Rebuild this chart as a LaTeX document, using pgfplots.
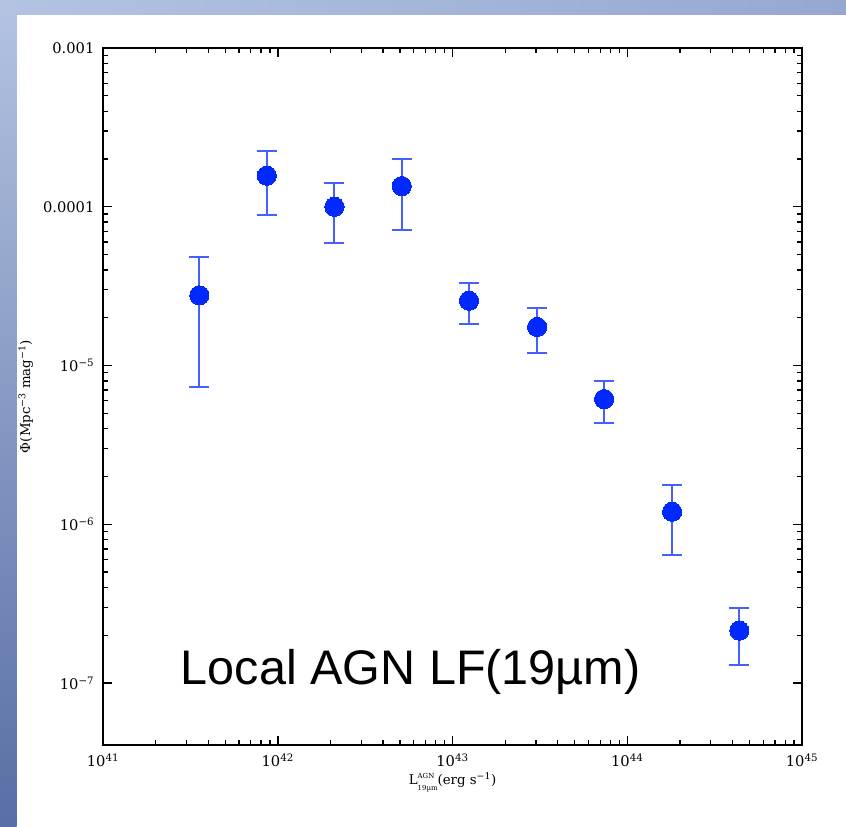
\documentclass[border=0pt]{standalone}
\usepackage{pgfplots}
\pgfplotsset{compat=1.18}
\usepackage{pgfplotstable}
\usepackage{fontspec}
\setmainfont{DejaVu Serif}
\newfontfamily\titlefont{Liberation Sans}

\definecolor{dotblue}{RGB}{0,40,255}
\definecolor{barblue}{RGB}{70,95,255}
\definecolor{frameA}{RGB}{180,195,226}
\definecolor{frameB}{RGB}{150,168,210}
\definecolor{frameC}{RGB}{88,110,165}

% luminosity (erg/s), Phi (Mpc^-3 mag^-1), symmetric 1-sigma error
\pgfplotstableread{
x        y        err
3.556e41 2.77e-5  2.04e-5
8.65e41  1.57e-4  6.85e-5
2.109e42 1.00e-4  4.10e-5
5.117e42 1.35e-4  6.40e-5
1.242e43 2.56e-5  7.30e-6
3.048e43 1.75e-5  5.50e-6
7.362e43 6.15e-6  1.80e-6
1.803e44 1.20e-6  5.60e-7
4.375e44 2.14e-7  8.40e-8
}\lfdata

% stacked super/subscript for the luminosity symbol
\newcommand\lumsym{L\raisebox{-4.2pt}{\fontsize{5.2}{6}\selectfont\shortstack[l]{AGN\\[1.6pt]19µm}}}

\begin{document}
\begin{tikzpicture}
\useasboundingbox (0,0) rectangle (634.5pt,620.25pt);
\fill[white] (0,0) rectangle (634.5pt,620.25pt);
% slide frame
\shade[top color=frameA, bottom color=frameC] (0,0) rectangle (12.5pt,620.25pt);
\shade[left color=frameA, right color=frameB] (0,609pt) rectangle (634.5pt,620.25pt);

\begin{axis}[
  at={(77.25pt,61.5pt)}, anchor=south west,
  scale only axis, width=524.25pt, height=522.75pt,
  xmode=log, ymode=log,
  xmin=1e41, xmax=1e45,
  ymin=4.07e-8, ymax=1e-3,
  axis line style={line width=1.1pt},
  every tick/.style={black, line width=1pt},
  major tick length=6.75pt, minor tick length=3.75pt,
  tick align=inside,
  xtick={1e41,1e42,1e43,1e44,1e45},
  xticklabels={10\textsuperscript{41},10\textsuperscript{42},10\textsuperscript{43},10\textsuperscript{44},10\textsuperscript{45}},
  ytick={1e-7,1e-6,1e-5,1e-4,1e-3},
  yticklabels={10\textsuperscript{−7},10\textsuperscript{−6},10\textsuperscript{−5},0.0001,0.001},
  ticklabel style={font=\fontsize{11}{13}\selectfont},
  xticklabel style={yshift=-3pt},
  yticklabel style={xshift=-3pt},
  xlabel={\lumsym(erg s\textsuperscript{−1})},
  ylabel={Φ(Mpc\textsuperscript{−3} mag\textsuperscript{−1})},
  label style={font=\fontsize{10}{12}\selectfont},
  every axis x label/.style={at={(axis description cs:0.5,0)}, anchor=center, yshift=-28pt},
  every axis y label/.style={at={(axis description cs:0,0.5)}, anchor=center, xshift=-58pt, rotate=90},
  clip=false,
]
\addplot[
  only marks, mark=*, mark size=7.2pt,
  mark options={fill=dotblue, draw=dotblue, line width=0pt},
  error bars/.cd, y dir=both, y explicit,
  error bar style={barblue, line width=1.5pt},
  error mark options={rotate=90, mark size=7.5pt, barblue, line width=1.5pt},
] table[x=x, y=y, y error=err] {\lfdata};
\end{axis}

\node[anchor=base west, inner sep=0pt, font=\titlefont\fontsize{36.4}{40}\selectfont]
  at (135.5pt,106.5pt) {Local AGN LF(19µm)};
\end{tikzpicture}
\end{document}
